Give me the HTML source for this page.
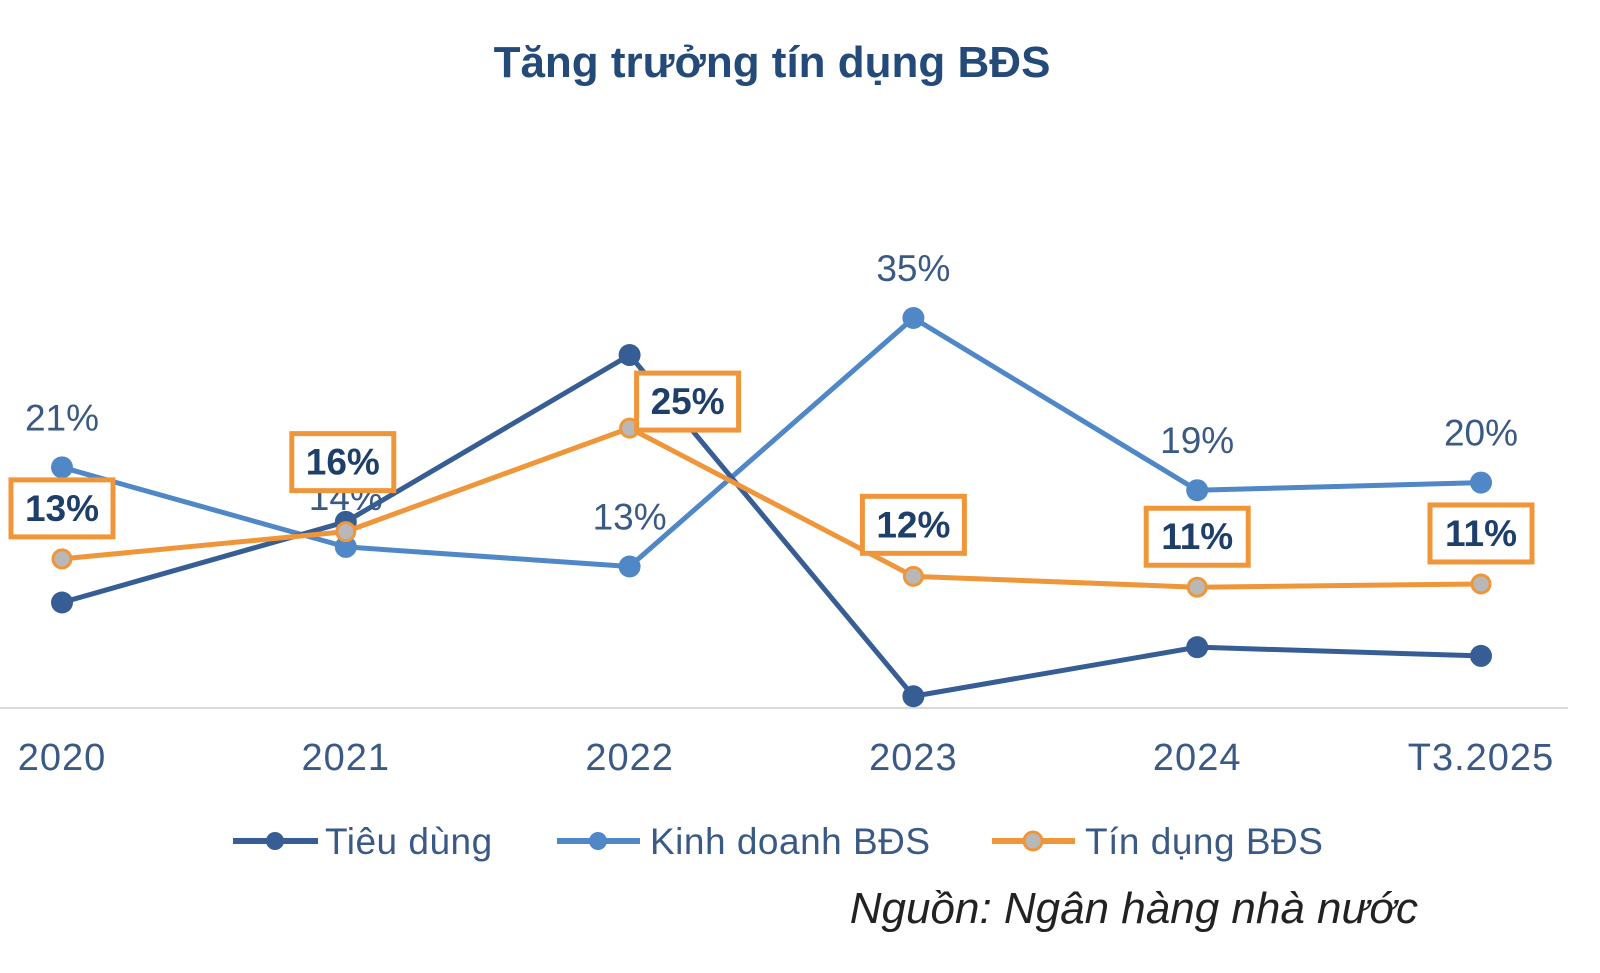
<!DOCTYPE html>
<html><head><meta charset="utf-8"><style>
body{margin:0;background:#fff;}
svg{display:block;font-family:"Liberation Sans",sans-serif;}
</style></head><body>
<svg id="chart" width="1600" height="973" viewBox="0 0 1600 973">
<text x="772" y="77" text-anchor="middle" font-size="44" font-weight="bold" fill="#234a78">Tăng trưởng tín dụng BĐS</text>
<line x1="0" y1="708" x2="1568" y2="708" stroke="#d9d9d9" stroke-width="2"/>
<g id="xlabels"></g><g id="series"></g><g id="labels"></g>
<g>
 <g><line x1="233" y1="841" x2="318" y2="841" stroke="#375e94" stroke-width="6"/><circle cx="275" cy="841" r="9" fill="#375e94"/><text x="325" y="854" font-size="37" letter-spacing="0.5" fill="#3a5a85">Tiêu dùng</text></g>
 <g><line x1="557" y1="841" x2="640" y2="841" stroke="#4f87c7" stroke-width="6"/><circle cx="598" cy="841" r="9" fill="#4f87c7"/><text x="650" y="854" font-size="37" letter-spacing="0.5" fill="#3a5a85">Kinh doanh BĐS</text></g>
 <g><line x1="992" y1="841" x2="1075" y2="841" stroke="#f0963a" stroke-width="6"/><circle cx="1033" cy="841" r="9" fill="#b8b8b8" stroke="#f0963a" stroke-width="3"/><text x="1085" y="854" font-size="37" letter-spacing="0.5" fill="#3a5a85">Tín dụng BĐS</text></g>
</g>
<text x="1418" y="923" text-anchor="end" font-size="44" font-style="italic" fill="#222">Nguồn: Ngân hàng nhà nước</text>
</svg>
<script>
const categories=["2020","2021","2022","2023","2024","T3.2025"];
const tieuDung=[8.9,16.3,31.6,0.3,4.8,4.0];
const kinhDoanh=[21.3,14.0,12.2,35,19.2,19.9];
const tinDung=[12.9,15.4,24.9,11.3,10.3,10.6];
const kinhDoanhLabels=["21%","14%","13%","35%","19%","20%"];
const tinDungLabels=["13%","16%","25%","12%","11%","11%"];
const NS="http://www.w3.org/2000/svg";
const x=i=>62+i*283.8;
const y=v=>699.5-v*10.9;
function mk(t,a,p){const e=document.createElementNS(NS,t);for(const k in a)e.setAttribute(k,a[k]);p.appendChild(e);return e;}
const xl=document.getElementById('xlabels'),sg=document.getElementById('series'),lg=document.getElementById('labels');
categories.forEach((c,i)=>{const t=mk('text',{x:x(i),y:770,'text-anchor':'middle','font-size':38,'letter-spacing':1,fill:'#3a5a85'},xl);t.textContent=c;

});
function series(d,col,name,dotFill){
 const g=mk('g',{},sg);
 
 
 const p=mk('polyline',{points:d.map((v,i)=>x(i)+','+y(v)).join(' '),fill:'none',stroke:col,'stroke-width':5,'stroke-linejoin':'round'},g);
 
 
 d.forEach((v,i)=>{const c=mk('circle',{cx:x(i),cy:y(v),r:dotFill?9:11,fill:dotFill||col,stroke:dotFill?col:'none','stroke-width':3},g);
 
 });
}
series(kinhDoanh,'#4f87c7','kinh-doanh-bds');
series(tieuDung,'#375e94','tieu-dung');
series(tinDung,'#f0963a','tin-dung-bds','#b8b8b8');
kinhDoanh.forEach((v,i)=>{const t=mk('text',{x:x(i),y:y(v)-37,'text-anchor':'middle','font-size':37,fill:'#3a5a85'},lg);t.textContent=kinhDoanhLabels[i];

});
const boxOff=[[0,-51],[-3,-70],[58,-27],[0,-52],[0,-51],[0,-51]];
tinDung.forEach((v,i)=>{const cx=x(i)+boxOff[i][0],cy=y(v)+boxOff[i][1];
 const g=mk('g',{},lg);
 
 
 mk('rect',{x:cx-51,y:cy-28,width:102,height:57,fill:'#fff',stroke:'#f0963a','stroke-width':5},g);
 const t=mk('text',{x:cx,y:cy+13,'text-anchor':'middle','font-size':37,'font-weight':'bold',fill:'#1f3f6b'},g);t.textContent=tinDungLabels[i];});
</script>
</body></html>
